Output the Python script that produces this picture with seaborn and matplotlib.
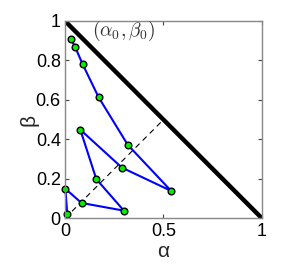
import numpy as np
import pandas as pd
import seaborn as sns
import matplotlib
matplotlib.use("Agg")
import matplotlib.pyplot as plt
from matplotlib.ticker import FuncFormatter

# 轨迹上的点 (alpha, beta)
alpha = [0.032, 0.052, 0.090, 0.171, 0.319, 0.539, 0.289, 0.078, 0.159, 0.299, 0.084, 0.002, 0.012]
beta = [0.907, 0.867, 0.780, 0.613, 0.372, 0.139, 0.257, 0.449, 0.199, 0.039, 0.078, 0.150, 0.020]
order = list(range(len(alpha)))

# 边界线与对角线
bound_a = [0, 1]
bound_b = [1, 0]
diag_a = [0, 0.5]
diag_b = [0, 0.5]

xticks = [0, 0.5, 1]
yticks = [0, 0.2, 0.4, 0.6, 0.8, 1]

sns.set_style("white")
plt.rcParams['font.family'] = ['Liberation Sans', 'DejaVu Sans']
plt.rcParams['mathtext.fontset'] = 'cm'

df = pd.DataFrame({"alpha": alpha, "beta": beta, "order": order})

fig = plt.figure(figsize=(3.05, 2.65), dpi=100)
ax = fig.add_axes([0.213, 0.176, 0.646, 0.745])

sns.lineplot(x=bound_a, y=bound_b, color="black", linewidth=3.2, ax=ax)
sns.lineplot(x=diag_a, y=diag_b, color="black", linewidth=0.8, linestyle=(0, (5, 4)), ax=ax)
sns.lineplot(data=df, x="alpha", y="beta", sort=False, color="#0000ff", linewidth=1.5,
             marker="o", markersize=4.8, markerfacecolor="#00ee00", markeredgecolor="black",
             markeredgewidth=1.0, clip_on=False, ax=ax)

ax.text(0.135, 0.95, r"$(\alpha_0,\beta_0)$", fontsize=14, color="#333333", va="center", ha="left")

ax.set_xlim(0, 1)
ax.set_ylim(0, 1)
ax.set_xticks(xticks)
ax.set_yticks(yticks)
ax.xaxis.set_major_formatter(FuncFormatter(lambda v, p: "%g" % v))
ax.yaxis.set_major_formatter(FuncFormatter(lambda v, p: "%g" % v))
ax.tick_params(direction="in", length=3, labelsize=13, colors="#444444", labelcolor="black", pad=3,
               top=True, right=True)
ax.tick_params(axis="both", which="both", bottom=True, left=True)
for s in ax.spines.values():
    s.set_color("#888888")
    s.set_linewidth(1.0)
ax.set_xlabel("α", fontsize=15, labelpad=2)
ax.set_ylabel("β", fontsize=15, labelpad=-2)

plt.savefig("out.png", dpi=100)
